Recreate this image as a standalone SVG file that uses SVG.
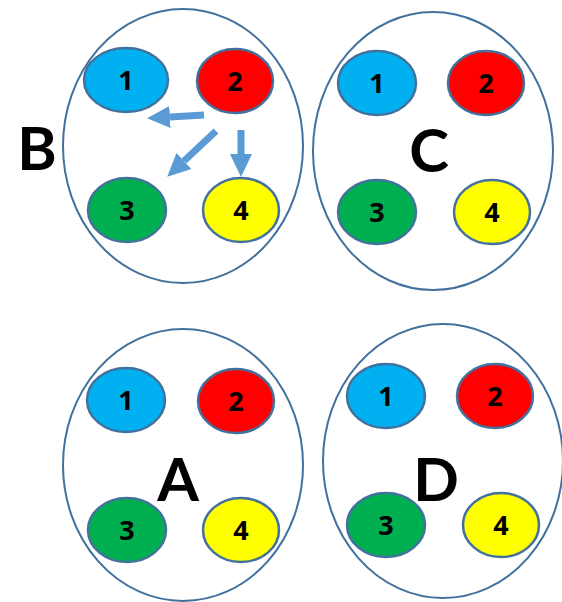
<svg xmlns="http://www.w3.org/2000/svg" width="562" height="602" viewBox="0 0 562 602">
<style>
.outer{fill:#fff;stroke:#41719C;stroke-width:2}
.n{stroke:#41719C;stroke-width:2.5}
.c1{fill:#00B0F0}.c2{fill:#FF0000}.c3{fill:#00B050}.c4{fill:#FFFF00}
.d{font-family:"Open Sans","Liberation Sans",sans-serif;font-weight:bold;font-size:27px;text-anchor:middle;fill:#000}
.big{font-family:Lato,"Liberation Sans",sans-serif;font-weight:bold;font-size:60px;text-anchor:middle;fill:#000}
.arr{stroke:#5B9BD5;stroke-width:7;fill:none}
</style>
<defs>
<marker id="ah" markerUnits="userSpaceOnUse" markerWidth="24" markerHeight="24" refX="0" refY="12" orient="auto" viewBox="0 0 24 24">
<path d="M0,1 L23,12 L0,23 z" fill="#5B9BD5"/>
</marker>
</defs>
<rect width="562" height="602" fill="#fff"/>
<g id="groupB">
<ellipse class="outer" cx="183" cy="146" rx="120" ry="137"/>
<text class="big" x="37" y="170">B</text>
<g id="B1"><ellipse class="n c1" cx="126" cy="80" rx="42" ry="32"/><text class="d" x="126" y="90">1</text></g>
<g id="B2"><ellipse class="n c2" cx="235" cy="81" rx="38" ry="32"/><text class="d" x="235" y="91">2</text></g>
<g id="B3"><ellipse class="n c3" cx="127" cy="210" rx="39" ry="32"/><text class="d" x="127" y="220">3</text></g>
<g id="B4"><ellipse class="n c4" cx="241" cy="210" rx="38" ry="32"/><text class="d" x="241" y="220">4</text></g>
</g>
<g id="groupC">
<ellipse class="outer" cx="433" cy="151" rx="120" ry="139"/>
<text class="big" x="429" y="172">C</text>
<g id="C1"><ellipse class="n c1" cx="377" cy="83" rx="39" ry="32"/><text class="d" x="377" y="93">1</text></g>
<g id="C2"><ellipse class="n c2" cx="486" cy="83" rx="38" ry="32"/><text class="d" x="486" y="93">2</text></g>
<g id="C3"><ellipse class="n c3" cx="377" cy="212" rx="39" ry="32"/><text class="d" x="377" y="222">3</text></g>
<g id="C4"><ellipse class="n c4" cx="492" cy="212" rx="38" ry="32"/><text class="d" x="492" y="222">4</text></g>
</g>
<g id="groupA">
<ellipse class="outer" cx="183" cy="465" rx="120" ry="136"/>
<text class="big" x="178" y="501">A</text>
<g id="A1"><ellipse class="n c1" cx="126" cy="400" rx="39" ry="32"/><text class="d" x="126" y="410">1</text></g>
<g id="A2"><ellipse class="n c2" cx="236" cy="401" rx="38" ry="32"/><text class="d" x="236" y="411">2</text></g>
<g id="A3"><ellipse class="n c3" cx="127" cy="530" rx="39" ry="32"/><text class="d" x="127" y="540">3</text></g>
<g id="A4"><ellipse class="n c4" cx="241" cy="530" rx="38" ry="32"/><text class="d" x="241" y="540">4</text></g>
</g>
<g id="groupD">
<ellipse class="outer" cx="443" cy="461" rx="120" ry="137"/>
<text class="big" x="436" y="501">D</text>
<g id="D1"><ellipse class="n c1" cx="386" cy="396" rx="39" ry="32"/><text class="d" x="386" y="406">1</text></g>
<g id="D2"><ellipse class="n c2" cx="495" cy="396" rx="38" ry="32"/><text class="d" x="495" y="406">2</text></g>
<g id="D3"><ellipse class="n c3" cx="386" cy="525" rx="39" ry="32"/><text class="d" x="386" y="535">3</text></g>
<g id="D4"><ellipse class="n c4" cx="501" cy="525" rx="38" ry="32"/><text class="d" x="501" y="535">4</text></g>
</g>
<g id="connectors">
<line class="arr" x1="204" y1="115" x2="170" y2="117" marker-end="url(#ah)"/>
<line class="arr" x1="216" y1="131" x2="184" y2="161" marker-end="url(#ah)"/>
<line class="arr" x1="241" y1="130" x2="241" y2="154" marker-end="url(#ah)"/>
</g>
</svg>
